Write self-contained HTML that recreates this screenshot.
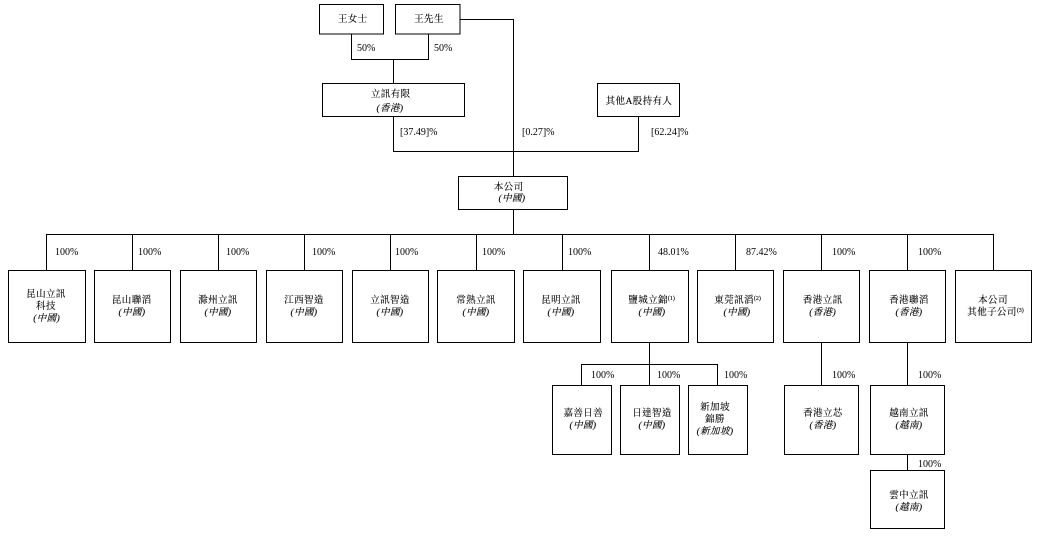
<!DOCTYPE html>
<html lang="zh-Hant">
<head>
<meta charset="utf-8">
<style>
html,body{margin:0;padding:0;background:#fff;width:1037px;height:537px;overflow:hidden}
svg{display:block}
rect{fill:#fff;stroke:#000;stroke-width:1}
path{fill:none;stroke:#000;stroke-width:1}
text{fill:#000}
.p{font-family:"Liberation Serif",serif;font-size:10px}
.c{font-family:"Liberation Serif","Noto Serif CJK SC",serif;font-size:9.5px;letter-spacing:.4px;text-anchor:middle;stroke:#000;stroke-width:.12px}
.l{text-anchor:start}
.i{font-style:italic}
.s{font-size:6px;letter-spacing:0}
</style>
</head>
<body>
<svg width="1037" height="537" viewBox="0 0 1037 537" xmlns="http://www.w3.org/2000/svg">
<path d="M351.5 34V59.5H428.5V34M393.5 59.5V83.5"/>
<path d="M460 19.5H513.5V176.5"/>
<path d="M393.5 116.5V151.5H638.5V116.5"/>
<path d="M513.5 209.5V234.5M46.5 270V234.5H993.5V270M132.5 234.5V270M218.5 234.5V270M304.5 234.5V270M390.5 234.5V270M476.5 234.5V270M562.5 234.5V270M649.5 234.5V270M735.5 234.5V270M821.5 234.5V270M907.5 234.5V270"/>
<path d="M649.5 342.5V385M581.5 385V364.5H717.5V385"/>
<path d="M821.5 342.5V385M907.5 342.5V385M907.5 454.5V470"/>

<rect x="319.5" y="4.5" width="64" height="29.5"/>
<rect x="395.5" y="4.5" width="64.5" height="29.5"/>
<rect x="322.5" y="83.5" width="142" height="33"/>
<rect x="597.5" y="83.5" width="82" height="33"/>
<rect x="458.5" y="176.5" width="109" height="33"/>

<rect x="8.5" y="270.5" width="77" height="72"/>
<rect x="94.5" y="270.5" width="76" height="72"/>
<rect x="180.5" y="270.5" width="76" height="72"/>
<rect x="266.5" y="270.5" width="76" height="72"/>
<rect x="352.5" y="270.5" width="76" height="72"/>
<rect x="437.5" y="270.5" width="77" height="72"/>
<rect x="523.5" y="270.5" width="77" height="72"/>
<rect x="611.5" y="270.5" width="77" height="72"/>
<rect x="697.5" y="270.5" width="76" height="72"/>
<rect x="783.5" y="270.5" width="76" height="72"/>
<rect x="869.5" y="270.5" width="76" height="72"/>
<rect x="955.5" y="270.5" width="76" height="72"/>

<rect x="552.5" y="385.5" width="59" height="69"/>
<rect x="620.5" y="385.5" width="59" height="69"/>
<rect x="688.5" y="385.5" width="59" height="69"/>
<rect x="784.5" y="385.5" width="74" height="69"/>
<rect x="870.5" y="385.5" width="74" height="69"/>
<rect x="870.5" y="470.5" width="74" height="58"/>

<text class="p" x="357" y="51">50%</text>
<text class="p" x="434" y="51">50%</text>
<text class="p" x="400" y="135">[37.49]%</text>
<text class="p" x="522" y="135">[0.27]%</text>
<text class="p" x="651" y="135">[62.24]%</text>

<text class="p" x="55" y="255">100%</text>
<text class="p" x="138" y="255">100%</text>
<text class="p" x="226" y="255">100%</text>
<text class="p" x="312" y="255">100%</text>
<text class="p" x="395" y="255">100%</text>
<text class="p" x="482" y="255">100%</text>
<text class="p" x="568" y="255">100%</text>
<text class="p" x="658" y="255">48.01%</text>
<text class="p" x="746" y="255">87.42%</text>
<text class="p" x="832" y="255">100%</text>
<text class="p" x="918" y="255">100%</text>

<text class="p" x="591" y="378">100%</text>
<text class="p" x="657" y="378">100%</text>
<text class="p" x="724" y="378">100%</text>
<text class="p" x="832" y="378">100%</text>
<text class="p" x="918" y="378">100%</text>
<text class="p" x="918" y="467">100%</text>

<text class="c" x="352.7" y="22">王女士</text>
<text class="c" x="429" y="22">王先生</text>
<text class="c" x="390.7" y="97">立訊有限</text>
<text class="c i" x="390" y="111">(香港)</text>
<text class="c" x="639" y="104">其他A股持有人</text>
<text class="c" x="508.7" y="190">本公司</text>
<text class="c i" x="512" y="201">(中國)</text>

<text class="c" x="46" y="297">昆山立訊</text>
<text class="c" x="46" y="309">科技</text>
<text class="c i" x="46.7" y="321">(中國)</text>
<text class="c" x="131.7" y="303">昆山聯滔</text>
<text class="c i" x="132" y="315">(中國)</text>
<text class="c" x="218" y="303">滁州立訊</text>
<text class="c i" x="218" y="315">(中國)</text>
<text class="c" x="304" y="303">江西智造</text>
<text class="c i" x="304" y="315">(中國)</text>
<text class="c" x="390" y="303">立訊智造</text>
<text class="c i" x="390" y="315">(中國)</text>
<text class="c" x="476" y="303">常熟立訊</text>
<text class="c i" x="476" y="315">(中國)</text>
<text class="c" x="561" y="303">昆明立訊</text>
<text class="c i" x="561" y="315">(中國)</text>
<text class="c l" x="628.3" y="303">鹽城立錦<tspan class="s" dy="-3">(1)</tspan></text>
<text class="c i" x="652" y="315">(中國)</text>
<text class="c l" x="714.3" y="303">東莞訊滔<tspan class="s" dy="-3">(2)</tspan></text>
<text class="c i" x="737" y="315">(中國)</text>
<text class="c" x="822.7" y="303">香港立訊</text>
<text class="c i" x="822.7" y="315">(香港)</text>
<text class="c" x="909" y="303">香港聯滔</text>
<text class="c i" x="909" y="315">(香港)</text>
<text class="c" x="993" y="303">本公司</text>
<text class="c l" x="967.3" y="315">其他子公司<tspan class="s" dy="-3">(3)</tspan></text>

<text class="c" x="583.3" y="416">嘉善日善</text>
<text class="c i" x="583" y="428">(中國)</text>
<text class="c" x="652" y="416">日達智造</text>
<text class="c i" x="652" y="428">(中國)</text>
<text class="c" x="715" y="410">新加坡</text>
<text class="c" x="715" y="422">錦勝</text>
<text class="c i" x="715" y="434">(新加坡)</text>
<text class="c" x="823" y="416">香港立芯</text>
<text class="c i" x="823" y="428">(香港)</text>
<text class="c" x="909" y="416">越南立訊</text>
<text class="c i" x="909" y="428">(越南)</text>
<text class="c" x="909" y="498">雲中立訊</text>
<text class="c i" x="909" y="510">(越南)</text>
</svg>
</body>
</html>
